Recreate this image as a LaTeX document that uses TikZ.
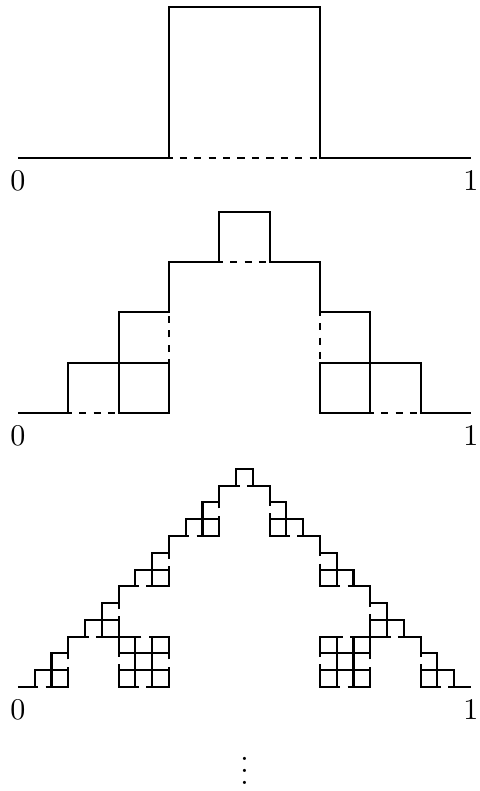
\documentclass[tikz,border=0pt]{standalone}
\usepackage{amssymb}
\usepackage{amsmath}
\usepackage{tikz}
\usetikzlibrary{lindenmayersystems}

\pgfdeclarelindenmayersystem{box curve}{
  \rule{F -> F+F-F-F+F}
}
% A: skip a third, draw the middle third, skip a third
\pgfdeclarelindenmayersystem{box base}{
  \symbol{A}{\pgflsystemmoveforward\pgflsystemdrawforward\pgflsystemmoveforward}
  \rule{A -> A+A-A-A+A}
}

\begin{document}
\begin{tikzpicture}[x=5.3cm,y=5.3cm,
  curve/.style={line width=0.7pt},
  base/.style={line width=0.7pt,dash pattern=on 2.4pt off 2.4pt,dash phase=1.2pt},
  end/.style={below=1pt,inner sep=3.33pt}]
\useasboundingbox (-0.0397,-0.2296) rectangle (1.0199,1.5166);

% step 1
\begin{scope}[shift={(0,1.1678)}]
  \draw[curve,l-system={box curve,axiom=F,order=1,step=5.3cm/3,angle=90}] (0,0) lindenmayer system;
  \draw[base,l-system={box base,axiom=A,order=0,step=5.3cm/3,angle=90}] (0,0) lindenmayer system;
  \node[end] (a0) at (0,0) {$0$};
  \node[end] (a1) at (1,0) {$1$};
\end{scope}

% step 2
\begin{scope}[shift={(0,0.6049)}]
  \draw[curve,l-system={box curve,axiom=F,order=2,step=5.3cm/9,angle=90}] (0,0) lindenmayer system;
  \draw[base,l-system={box base,axiom=A,order=1,step=5.3cm/9,angle=90}] (0,0) lindenmayer system;
  \node[end] (b0) at (0,0) {$0$};
  \node[end] (b1) at (1,0) {$1$};
\end{scope}

% step 3
\begin{scope}
  \draw[curve,l-system={box curve,axiom=F,order=3,step=5.3cm/27,angle=90}] (0,0) lindenmayer system;
  \draw[base,l-system={box base,axiom=A,order=2,step=5.3cm/27,angle=90}] (0,0) lindenmayer system;
  \node[end] (c0) at (0,0) {$0$};
  \node[end] (c1) at (1,0) {$1$};
\end{scope}

\node[anchor=base] (dots) at (0.5,-0.2145) {$\vdots$};
\end{tikzpicture}
\end{document}
